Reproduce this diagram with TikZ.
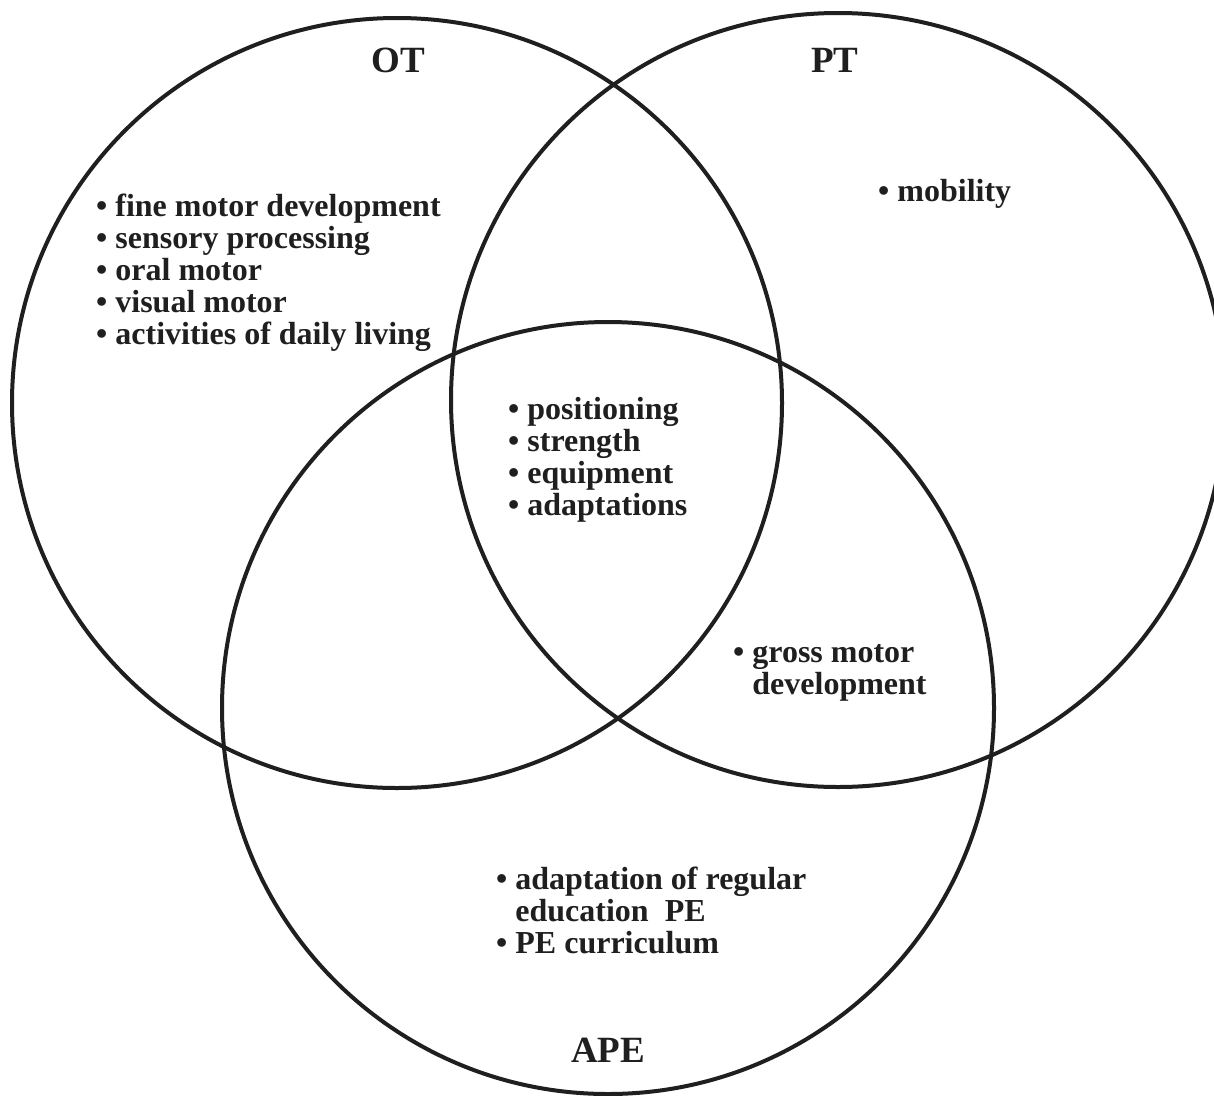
\documentclass[tikz,border=0pt]{standalone}
\usepackage{fontspec}
\setmainfont{Liberation Serif}
\begin{document}
\begin{tikzpicture}[x=1pt,y=-1pt,
  ring/.style={draw=black!88, line width=4pt},
  lbl/.style={font=\fontsize{37}{40}\selectfont\bfseries, inner sep=0pt, text=black!88},
  items/.style={font=\fontsize{32}{32}\selectfont\bfseries, inner sep=0pt, align=left, anchor=west, text=black!88}]
\useasboundingbox (0,0) rectangle (1214,1095);
\clip (0,0) rectangle (1214,1095);
\fill[white] (0,0) rectangle (1214,1095);
% circles
\draw[ring] (397,403) circle[radius=385pt];
\draw[ring] (838,400) circle[radius=387pt];
\draw[ring] (608,708) circle[radius=386pt];
% labels
\node[lbl] (ot) at (398,60) {OT};
\node[lbl] (pt) at (835,60) {PT};
\node[lbl] (ape) at (608,1050) {APE};
% items
\node[items] (otitems) at (96,273) {• fine motor development\\• sensory processing\\• oral motor\\• visual motor\\• activities of daily living};
\node[items] (ptitems) at (878,194) {• mobility};
\node[items] (center) at (508,460) {• positioning\\• strength\\• equipment\\• adaptations};
\node[items] (gross) at (733,673) {• gross motor\\\phantom{•\ }development};
\node[items] (apeitems) at (496,910) {• adaptation of regular\\\phantom{•\ }education\ \ PE\\• PE curriculum};
\end{tikzpicture}
\end{document}
